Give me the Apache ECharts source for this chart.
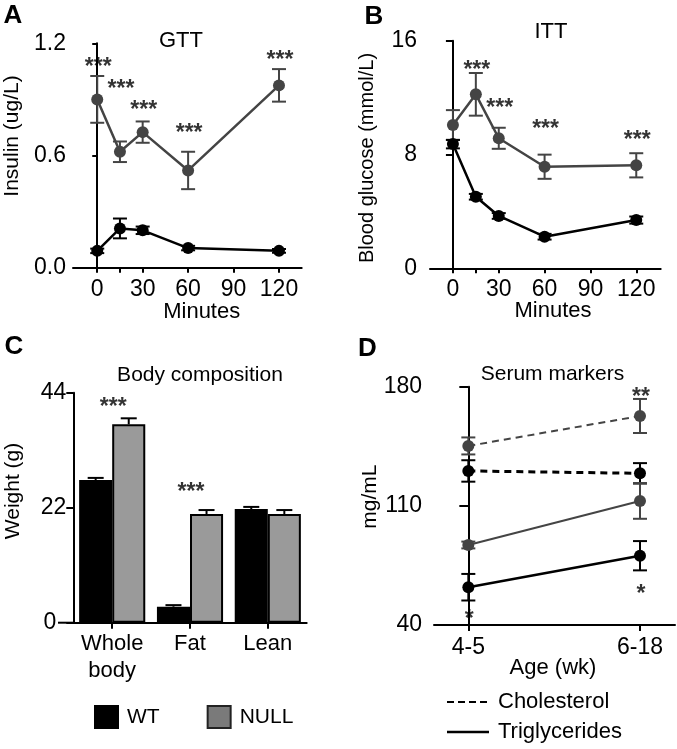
<!DOCTYPE html>
<html><head><meta charset="utf-8">
<script src="https://cdn.jsdelivr.net/npm/echarts@6/dist/echarts.min.js"></script>
<style>html,body{margin:0;padding:0;background:#fff}#c{width:677px;height:749px}</style>
</head><body><div id="c"></div>
<script>
const FONT = '"Liberation Sans", Arial, sans-serif';

// ---- Panel A: GTT insulin ----
const gttTime = [0, 15, 30, 60, 120];
const gttWT = [0.09, 0.21, 0.20, 0.105, 0.09];
const gttWTErr = [0.012, 0.053, 0.02, 0.012, 0.01];
const gttNULL = [0.90, 0.62, 0.725, 0.52, 0.975];
const gttNULLErr = [0.125, 0.055, 0.057, 0.10, 0.087];
const gttStarY = [1.103, 0.984, 0.871, 0.75, 1.139];
const gttStarText = ['***', '***', '***', '***', '***'];
const timeTicks = [0, 15, 30, 60, 90, 120];
const timeLabels = [0, 30, 60, 90, 120];

// ---- Panel B: ITT blood glucose ----
const ittTime = [0, 15, 30, 60, 120];
const ittWT = [8.73, 5.03, 3.68, 2.22, 3.39];
const ittWTErr = [0.3, 0.2, 0.2, 0.2, 0.25];
const ittNULL = [10.07, 12.23, 9.14, 7.14, 7.24];
const ittNULLErr = [1.05, 1.5, 0.74, 0.85, 0.85];
const ittStarTime = [15, 30, 60, 120];
const ittStarY = [14.29, 11.64, 10.19, 9.37];
const ittStarText = ['***', '***', '***', '***'];

// ---- Panel C: body composition ----
const bodyCats = ['Whole\nbody', 'Fat', 'Lean'];
const bodyWT = [27.3, 3.06, 21.75];
const bodyWTErr = [0.4, 0.3, 0.4];
const bodyNULL = [37.95, 20.8, 20.8];
const bodyNULLErr = [1.15, 0.75, 0.75];
const bodyStarCat = [0, 1];
const bodyStarY = [42.3, 26.0];
const bodyStarText = ['***', '***'];

// ---- Panel D: serum markers ----
const ageCats = ['4-5', '6-18'];
const cholWT = [130.5, 129.1];
const cholWTErr = [6.3, 6.0];
const cholNULL = [145.2, 162.8];
const cholNULLErr = [5.0, 10.0];
const trigWT = [62.2, 80.7];
const trigWTErr = [7.8, 8.6];
const trigNULL = [87.0, 112.9];
const trigNULLErr = [2.0, 10.5];
const serumStarAge = [1, 0, 1];
const serumStarY = [177, 46.9, 61.6];
const serumStarText = ['**', '*', '*'];
const serumLegend = ['Cholesterol', 'Triglycerides'];

const BLACK = '#000';
const GRAY = '#444';
const BAR_GRAY = '#9a9a9a';

const chart = echarts.init(document.getElementById('c'), null, {renderer: 'canvas'});

function errSeries(idx, xs, ys, errs, color) {
  return {
    type: 'custom', xAxisIndex: idx, yAxisIndex: idx, z: 2, silent: true,
    data: xs.map((x, i) => [x, ys[i], errs[i]]),
    renderItem(params, api) {
      const x = api.value(0), y = api.value(1), e = api.value(2);
      const t = api.coord([x, y + e]), b = api.coord([x, y - e]);
      const hw = 7;
      const st = {stroke: color, lineWidth: 2};
      return {type: 'group', children: [
        {type: 'line', shape: {x1: t[0], y1: t[1], x2: b[0], y2: b[1]}, style: st},
        {type: 'line', shape: {x1: t[0] - hw, y1: t[1], x2: t[0] + hw, y2: t[1]}, style: st},
        {type: 'line', shape: {x1: b[0] - hw, y1: b[1], x2: b[0] + hw, y2: b[1]}, style: st}
      ]};
    }
  };
}
function lineSeries(name, idx, xs, ys, color, width, dash) {
  return {
    type: 'line', name: name, xAxisIndex: idx, yAxisIndex: idx, z: 3, silent: true,
    data: xs.map((x, i) => [x, ys[i]]),
    symbol: 'circle', symbolSize: 12,
    itemStyle: {color: color},
    lineStyle: {color: color, width: width, type: dash || 'solid'}
  };
}
function starSeries(idx, xs, ys, texts) {
  return {
    type: 'scatter', xAxisIndex: idx, yAxisIndex: idx, z: 5, silent: true,
    symbol: 'circle', symbolSize: 1, itemStyle: {color: 'rgba(0,0,0,0)'},
    data: xs.map((x, i) => ({value: [x, ys[i]], name: texts[i]})),
    label: {show: true, position: 'inside', formatter: '{b}', fontSize: 23, fontWeight: 'bold',
      fontFamily: FONT, color: '#000', offset: [1, 6]}
  };
}
function barErrSeries(xs, ys, errs, side) {
  return {
    type: 'custom', xAxisIndex: 2, yAxisIndex: 2, z: 4, silent: true,
    data: xs.map((x, i) => [i, ys[i], errs[i]]),
    renderItem(params, api) {
      const ci = api.value(0), v = api.value(1), e = api.value(2);
      const band = api.size([1, 0])[0];
      const off = side * band * 0.85 / 4;
      const t = api.coord([ci, v + e]), b = api.coord([ci, v]);
      const x = t[0] + off, hw = 8;
      const st = {stroke: '#000', lineWidth: 2};
      return {type: 'group', children: [
        {type: 'line', shape: {x1: x, y1: t[1], x2: x, y2: b[1]}, style: st},
        {type: 'line', shape: {x1: x - hw, y1: t[1], x2: x + hw, y2: t[1]}, style: st}
      ]};
    }
  };
}

const axisLineStyle = {show: true, lineStyle: {color: '#000', width: 2}};
const labelBase = {color: '#000', fontFamily: FONT, fontSize: 23};

function yAxis(idx, min, max, interval, tickLen, margin, custom, fmt, rich) {
  const ax = {
    type: 'value', gridIndex: idx, min: min, max: max,
    axisLine: axisLineStyle,
    axisTick: {show: true, length: tickLen, lineStyle: {color: '#000', width: 2}},
    axisLabel: Object.assign({margin: margin}, labelBase),
    splitLine: {show: false}
  };
  if (fmt) ax.axisLabel.formatter = fmt;
  if (rich) ax.axisLabel.rich = rich;
  if (custom) {
    ax.axisLabel.customValues = custom;
    ax.axisTick.customValues = custom;
  } else {
    ax.interval = interval;
  }
  return ax;
}
function timeAxis(idx, min, max) {
  return {
    type: 'value', gridIndex: idx, min: min, max: max,
    axisLine: axisLineStyle,
    axisTick: {show: true, length: 5, lineStyle: {color: '#000', width: 2}, customValues: timeTicks},
    axisLabel: Object.assign({margin: 10, customValues: timeLabels}, labelBase),
    splitLine: {show: false}
  };
}

function txt(text, x, y, size, opts) {
  opts = opts || {};
  const al = opts.align || 'center';
  return {
    type: 'text', x: x, y: y, rotation: opts.rot || 0, silent: true,
    style: {text: text, font: (opts.bold ? 'bold ' : '') + size + 'px ' + FONT,
      fill: '#000', textAlign: al, textVerticalAlign: 'middle',
      align: al, verticalAlign: 'middle'}
  };
}

const ageIdx = ageCats.map((_, i) => i);

const option = {
  animation: false,
  backgroundColor: '#fff',
  grid: [
    {left: 73, top: 43.3, width: 228.7, height: 224.4},
    {left: 430, top: 40.7, width: 230.7, height: 227.6},
    {left: 73.3, top: 392.7, width: 233.4, height: 230},
    {left: 434, top: 386.7, width: 241, height: 238.3}
  ],
  xAxis: [
    timeAxis(0, -16, 135),
    timeAxis(1, -15, 136),
    {
      type: 'category', gridIndex: 2, data: bodyCats,
      axisLine: axisLineStyle,
      axisTick: {show: true, alignWithLabel: true, length: 6, lineStyle: {color: '#000', width: 2}},
      axisLabel: Object.assign({margin: 8, lineHeight: 27, interval: 0}, labelBase, {fontSize: 22})
    },
    {
      type: 'value', gridIndex: 3, min: -0.2, max: 1.204,
      axisLine: axisLineStyle,
      axisTick: {show: true, length: 6, lineStyle: {color: '#000', width: 2}, customValues: ageIdx},
      axisLabel: Object.assign({margin: 11, customValues: ageIdx,
        formatter: v => ageCats[Math.round(v)]}, labelBase),
      splitLine: {show: false}
    }
  ],
  yAxis: [
    yAxis(0, 0, 1.2, 0.6, 5, 7, null, v => v.toFixed(1)),
    yAxis(1, 0, 16, 8, 7, 13),
    yAxis(2, 0, 44, 22, 7, 7, null, v => v === 0 ? '{z|0}' : String(v),
      {z: {padding: [0, 10, 0, 0], fontSize: 23, fontFamily: FONT, color: '#000'}}),
    yAxis(3, 40, 180, null, 9, 12, [40, 110, 180])
  ],
  legend: [
    {
      left: 89, top: 700, itemWidth: 23, itemHeight: 22, itemGap: 47,
      selectedMode: false, icon: 'rect',
      textStyle: {fontFamily: FONT, fontSize: 21, color: '#000', padding: [0, 0, 0, 4]},
      data: [
        {name: 'WT', itemStyle: {color: '#000'}},
        {name: 'NULL', itemStyle: {color: '#7a7a7a', borderColor: '#222', borderWidth: 2}}
      ]
    }
  ],
  series: [
    // A
    errSeries(0, gttTime, gttNULL, gttNULLErr, GRAY),
    errSeries(0, gttTime, gttWT, gttWTErr, BLACK),
    lineSeries('NULL GTT', 0, gttTime, gttNULL, GRAY, 2.5),
    lineSeries('WT GTT', 0, gttTime, gttWT, BLACK, 2.5),
    starSeries(0, gttTime, gttStarY, gttStarText),
    // B
    errSeries(1, ittTime, ittNULL, ittNULLErr, GRAY),
    errSeries(1, ittTime, ittWT, ittWTErr, BLACK),
    lineSeries('NULL ITT', 1, ittTime, ittNULL, GRAY, 2.5),
    lineSeries('WT ITT', 1, ittTime, ittWT, BLACK, 2.5),
    starSeries(1, ittStarTime, ittStarY, ittStarText),
    // C
    {
      type: 'bar', name: 'WT', xAxisIndex: 2, yAxisIndex: 2, data: bodyWT,
      barGap: '0%', barCategoryGap: '15%', silent: true,
      itemStyle: {color: '#000', borderColor: '#000', borderWidth: 2}
    },
    {
      type: 'bar', name: 'NULL', xAxisIndex: 2, yAxisIndex: 2, data: bodyNULL,
      barGap: '0%', barCategoryGap: '15%', silent: true,
      itemStyle: {color: BAR_GRAY, borderColor: '#000', borderWidth: 2}
    },
    barErrSeries(bodyCats, bodyWT, bodyWTErr, -1),
    barErrSeries(bodyCats, bodyNULL, bodyNULLErr, 1),
    starSeries(2, bodyStarCat, bodyStarY, bodyStarText),
    // D
    errSeries(3, ageIdx, cholNULL, cholNULLErr, GRAY),
    errSeries(3, ageIdx, cholWT, cholWTErr, BLACK),
    errSeries(3, ageIdx, trigNULL, trigNULLErr, GRAY),
    errSeries(3, ageIdx, trigWT, trigWTErr, BLACK),
    lineSeries('NULL chol', 3, ageIdx, cholNULL, GRAY, 2, [7, 5]),
    lineSeries('WT chol', 3, ageIdx, cholWT, BLACK, 3, [7, 5]),
    lineSeries('NULL trig', 3, ageIdx, trigNULL, GRAY, 2),
    lineSeries('WT trig', 3, ageIdx, trigWT, BLACK, 2.5),
    starSeries(3, serumStarAge, serumStarY, serumStarText)
  ],
  graphic: [
    txt('A', 13, 16, 26, {bold: true}),
    txt('B', 374, 16.5, 26, {bold: true}),
    txt('C', 14, 347, 26, {bold: true}),
    txt('D', 367.5, 349, 26, {bold: true}),
    txt('GTT', 181, 41, 22),
    txt('ITT', 551, 32, 22),
    txt('Body composition', 200, 375, 21),
    txt('Serum markers', 552.5, 374, 21),
    txt('Insulin (ug/L)', 12, 136, 21, {rot: Math.PI / 2}),
    txt('Blood glucose (mmol/L)', 367.5, 158, 20, {rot: Math.PI / 2}),
    txt('Weight (g)', 13, 491, 21, {rot: Math.PI / 2}),
    txt('mg/mL', 370, 496.7, 21, {rot: Math.PI / 2}),
    txt('Minutes', 201.7, 312, 22),
    txt('Minutes', 553, 311, 22),
    txt('Age (wk)', 553, 668, 22),
    {type: 'line', silent: true, shape: {x1: 58, y1: 622.7, x2: 74, y2: 622.7},
      style: {stroke: '#000', lineWidth: 2}},
    // Panel D line-style legend
    {type: 'line', silent: true, shape: {x1: 447, y1: 702, x2: 489, y2: 702},
      style: {stroke: '#000', lineWidth: 2, lineDash: [7, 4]}},
    txt(serumLegend[0], 498, 702, 22, {align: 'left'}),
    {type: 'line', silent: true, shape: {x1: 447, y1: 732, x2: 489, y2: 732},
      style: {stroke: '#000', lineWidth: 2.5}},
    txt(serumLegend[1], 498, 732, 22, {align: 'left'})
  ]
};
chart.setOption(option);
</script>
</body></html>
